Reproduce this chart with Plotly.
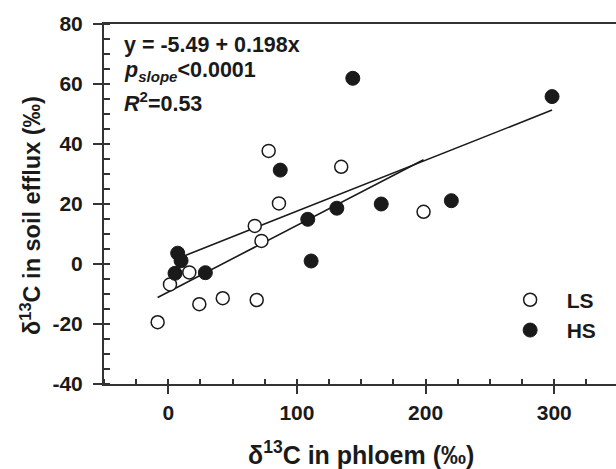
import plotly.graph_objects as go

# LS (open circles)
ls_x = [78, 86, 67.2, 72.4, 16.3, 1.3, 24.1, 42.3, 68.7, -8.3, 134.4, 198.4]
ls_y = [37.7, 20.2, 12.7, 7.7, -2.8, -6.8, -13.4, -11.4, -12.0, -19.4, 32.4, 17.4]
# HS (filled circles)
hs_x = [87, 108.4, 7.3, 9.9, 5.2, 28.8, 111, 143.4, 298.3, 131, 165.5, 220]
hs_y = [31.3, 14.9, 3.6, 1.1, -3.1, -2.9, 1.0, 61.9, 55.8, 18.6, 20.0, 21.1]

# regression lines (intercept, slope) as drawn
ls_fit = (-9.3, 0.222)
hs_fit = (0.6, 0.17)

# tick labels
x_ticks = [0, 100, 200, 300]
x_ticktext = ["0", "100", "200", "300"]
y_ticks = [-40, -20, 0, 20, 40, 60, 80]
y_ticktext = ["-40", "-20", "0", "20", "40", "60", "80"]

FONT = "Liberation Sans"
INK = "#1a1a1a"
AX = "#333333"

def fit_line(xs, fit):
    x0, x1 = min(xs), max(xs)
    return [x0, x1], [fit[0] + fit[1] * x0, fit[0] + fit[1] * x1]

fig = go.Figure()
lx, ly = fit_line(ls_x, ls_fit)
hx, hy = fit_line(hs_x, hs_fit)
fig.add_trace(go.Scatter(x=lx, y=ly, mode="lines", line=dict(color=INK, width=1.6),
                         showlegend=False, hoverinfo="skip"))
fig.add_trace(go.Scatter(x=hx, y=hy, mode="lines", line=dict(color=INK, width=1.6),
                         showlegend=False, hoverinfo="skip"))
fig.add_trace(go.Scatter(x=ls_x, y=ls_y, mode="markers", name="LS",
                         marker=dict(symbol="circle", size=13, color="white",
                                     line=dict(color=INK, width=1.5))))
fig.add_trace(go.Scatter(x=hs_x, y=hs_y, mode="markers", name="HS",
                         marker=dict(symbol="circle", size=14, color=INK,
                                     line=dict(color=INK, width=1))))

bold = lambda s: dict(family=FONT, size=s, color=INK, weight="bold")

fig.update_layout(
    width=616, height=469,
    margin=dict(l=104, r=0, t=24, b=85, autoexpand=False),
    paper_bgcolor="white", plot_bgcolor="white",
    font=dict(family=FONT, color=INK, size=18),
    legend=dict(x=0.761, y=0.29, xanchor="left", yanchor="top",
                bgcolor="rgba(0,0,0,0)", itemwidth=63,
                font=bold(21)),
    xaxis=dict(range=[-50, 348], showgrid=False, zeroline=False, automargin=False,
               showline=True, linecolor=AX, linewidth=2, mirror=True,
               ticks="outside", ticklen=8, tickwidth=2, tickcolor=AX,
               tickmode="array", tickvals=x_ticks, ticktext=x_ticktext,
               ticklabelstandoff=1, tickfont=bold(21),
               minor=dict(ticks="inside", ticklen=5, tickwidth=1.5, tickcolor=AX,
                          tickmode="linear", tick0=0, dtick=25)),
    yaxis=dict(range=[-40, 80], showgrid=False, zeroline=False, automargin=False,
               showline=True, linecolor=AX, linewidth=2,
               ticks="outside", ticklen=9, tickwidth=2, tickcolor=AX,
               tickmode="array", tickvals=y_ticks, ticktext=y_ticktext,
               ticklabelstandoff=6, tickfont=bold(21),
               minor=dict(ticks="inside", ticklen=6, tickwidth=1.5, tickcolor=AX,
                          tickmode="linear", tick0=0, dtick=5)),
)

# axis titles (pixel-tuned annotations)
fig.add_annotation(xref="paper", yref="paper", x=0.502, y=-0.192, xanchor="center", yanchor="middle",
                   text="δ<sup>13</sup>C in phloem (‰)", showarrow=False, font=bold(25))
fig.add_annotation(xref="paper", yref="paper", x=-0.143, y=0.469, xanchor="center", yanchor="middle",
                   text="δ<sup>13</sup>C in soil efflux (‰)", textangle=-90, showarrow=False,
                   font=bold(23.5))

# statistics text
stats = ["y = -5.49 + 0.198x",
         "<i>p</i><sub><i>slope</i></sub>&lt;0.0001",
         "<i>R</i><sup>2</sup>=0.53"]
stat_y = [0.9417, 0.869, 0.7833]
for t, yy in zip(stats, stat_y):
    fig.add_annotation(xref="paper", yref="paper", x=0.0346, y=yy, xanchor="left", yanchor="middle",
                       text=t, showarrow=False, font=bold(21.5))

fig.write_html("out.html", config={"displayModeBar": False},
               post_script="document.body.style.margin='0';")
